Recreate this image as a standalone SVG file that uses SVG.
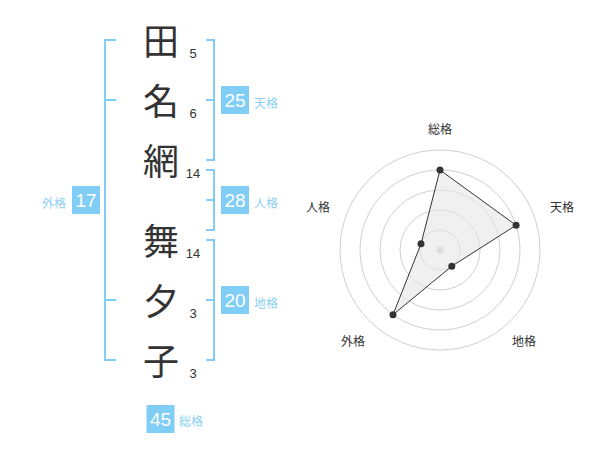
<svg xmlns="http://www.w3.org/2000/svg" width="600" height="470" viewBox="0 0 600 470">
<style>
.k{font-family:"Noto Sans CJK JP","Noto Sans CJK SC",sans-serif;font-size:36px;fill:#333;text-anchor:middle}
.n{font-family:"Liberation Sans",Arial,sans-serif;font-size:13px;fill:#333;text-anchor:middle}
.br{fill:none;stroke:#80cdf5;stroke-width:2}
.box{fill:#80cdf5}
.bn{font-family:"Liberation Sans",Arial,sans-serif;font-size:19px;fill:#fff;text-anchor:middle}
.bl{font-family:"Noto Sans CJK JP","Noto Sans CJK SC",sans-serif;font-size:12px;fill:#8dd0f3}
.ring{fill:none;stroke:#cfcfcf;stroke-width:1}
.rl{font-family:"Noto Sans CJK JP","Noto Sans CJK SC",sans-serif;font-size:12px;fill:#333;text-anchor:middle}
.pt{fill:#333}
</style>
<g id="chars">
<g id="c1"><text class="k" x="161" y="55">田</text><text class="n" x="193" y="58">5</text></g>
<g id="c2"><text class="k" x="161" y="115">名</text><text class="n" x="193" y="118">6</text></g>
<g id="c3"><text class="k" x="161" y="175">網</text><text class="n" x="193" y="178">14</text></g>
<g id="c4"><text class="k" x="161" y="255">舞</text><text class="n" x="193" y="258">14</text></g>
<g id="c5"><text class="k" x="161" y="315">夕</text><text class="n" x="193" y="318">3</text></g>
<g id="c6"><text class="k" x="161" y="375">子</text><text class="n" x="193" y="378">3</text></g>
</g>
<g id="connectors">
<path class="br" d="M116,40 H105 V360 H116 M105,100 H116 M105,300 H116"/>
<path class="br" d="M206,40 H214 V160 H206 M206,100 H214"/>
<path class="br" d="M206,170 H214 V230 H206 M206,200 H214"/>
<path class="br" d="M206,240 H214 V360 H206 M206,300 H214"/>
</g>
<g id="gaikaku"><rect class="box" x="72" y="186" width="28" height="28"/><text class="bn" x="86" y="207">17</text><text class="bl" x="66" y="208" text-anchor="end">外格</text></g>
<g id="tenkaku"><rect class="box" x="221" y="86" width="28" height="28"/><text class="bn" x="235" y="107">25</text><text class="bl" x="254" y="108">天格</text></g>
<g id="jinkaku"><rect class="box" x="221" y="186" width="28" height="28"/><text class="bn" x="235" y="207">28</text><text class="bl" x="254" y="208">人格</text></g>
<g id="chikaku"><rect class="box" x="221" y="286" width="28" height="28"/><text class="bn" x="235" y="307">20</text><text class="bl" x="254" y="308">地格</text></g>
<g id="soukaku"><rect class="box" x="146.5" y="405" width="28" height="28"/><text class="bn" x="160.5" y="426">45</text><text class="bl" x="179" y="426">総格</text></g>
<g id="radar">
<circle class="ring" cx="440" cy="250" r="100"/>
<circle class="ring" cx="440" cy="250" r="80"/>
<circle class="ring" cx="440" cy="250" r="60"/>
<circle class="ring" cx="440" cy="250" r="40"/>
<circle class="ring" cx="440" cy="250" r="20"/>
<circle cx="440" cy="250" r="3.5" fill="#cccccc"/>
<polygon points="440,170 516.1,225.3 451.8,266.2 393,314.7 421,243.8" fill="#e6e6e6" fill-opacity="0.6" stroke="#333" stroke-width="1"/>
<circle class="pt" cx="440" cy="170" r="3.5"/>
<circle class="pt" cx="516.1" cy="225.3" r="3.5"/>
<circle class="pt" cx="451.8" cy="266.2" r="3.5"/>
<circle class="pt" cx="393" cy="314.7" r="3.5"/>
<circle class="pt" cx="421" cy="243.8" r="3.5"/>
<text class="rl" x="440" y="134">総格</text>
<text class="rl" x="562" y="212">天格</text>
<text class="rl" x="524" y="346">地格</text>
<text class="rl" x="353" y="346">外格</text>
<text class="rl" x="318" y="212">人格</text>
</g>
</svg>
